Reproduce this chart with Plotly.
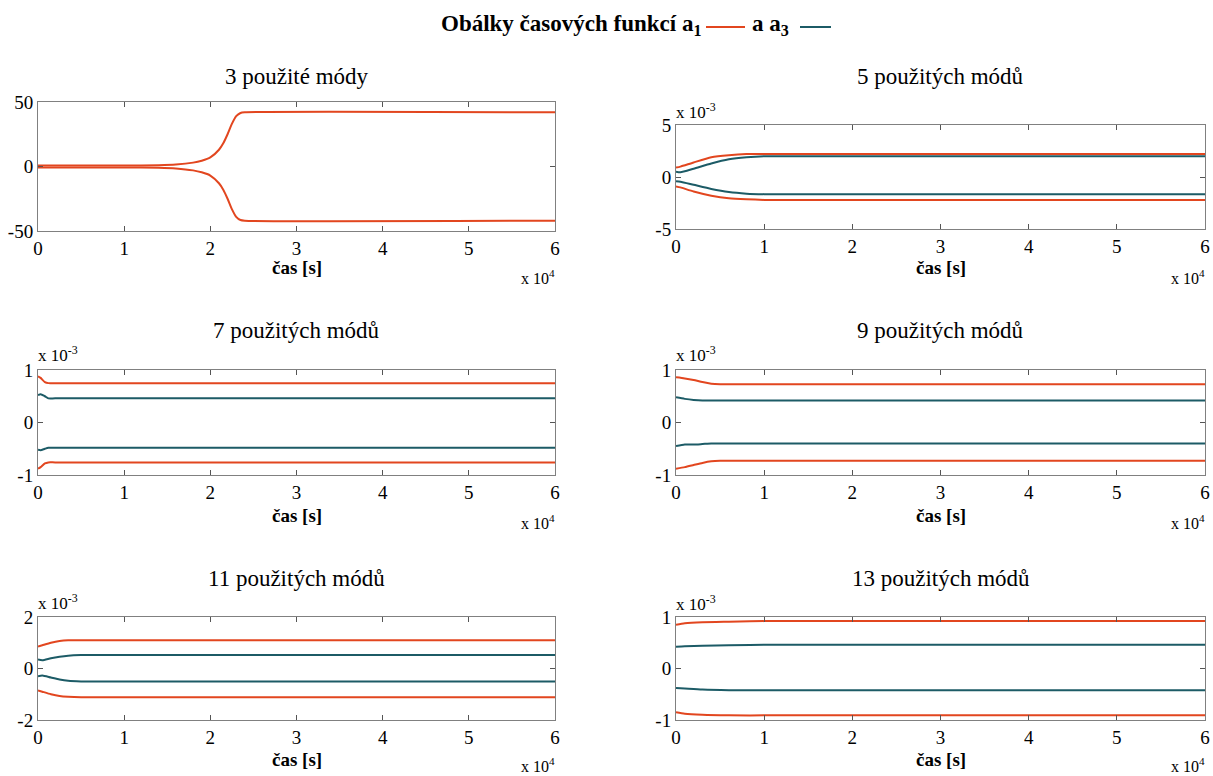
import plotly.graph_objects as go

W, H = 1213, 776
RED = "#e2461f"
TEAL = "#1c5b66"
FONT = "Liberation Serif, Times New Roman, serif"

# ---------------- data (time in 1e4 s, amplitude in displayed units) ----------------
titles = ["3 použité módy", "5 použitých módů", "7 použitých módů",
          "9 použitých módů", "11 použitých módů", "13 použitých módů"]
x_ticks = [0, 1, 2, 3, 4, 5, 6]

# 3 modes (a1 only visible)
t_3 = [0, 0.5, 1.0, 1.4, 1.6, 1.8, 1.9, 2.0, 2.1, 2.15, 2.2, 2.25, 2.3, 2.35, 2.4, 6.0]
a1_up_3 = [0.8, 0.8, 0.8, 1.0, 1.5, 3.0, 4.5, 7.0, 13.0, 18.0, 25.0, 33.0, 39.0, 41.5, 42.0, 42.0]
a1_lo_3 = [-0.8, -0.8, -0.8, -1.0, -1.5, -3.0, -4.5, -7.0, -13.0, -18.0, -25.0, -33.0, -39.0, -41.5, -42.0, -42.0]

# 5 modes (x 1e-3)
t_5 = [0, 0.05, 0.2, 0.4, 0.6, 0.8, 1.0, 6.0]
a1_up_5 = [0.9, 1.0, 1.4, 1.9, 2.1, 2.2, 2.2, 2.2]
a1_lo_5 = [-0.9, -1.0, -1.4, -1.8, -2.05, -2.15, -2.2, -2.2]
a3_up_5 = [0.5, 0.45, 0.8, 1.3, 1.7, 1.9, 2.0, 2.0]
a3_lo_5 = [-0.4, -0.45, -0.75, -1.15, -1.45, -1.6, -1.65, -1.65]

# 7 modes
t_7 = [0, 0.03, 0.08, 0.12, 0.2, 6.0]
a1_up_7 = [0.88, 0.85, 0.77, 0.75, 0.75, 0.75]
a1_lo_7 = [-0.88, -0.85, -0.78, -0.76, -0.76, -0.76]
a3_up_7 = [0.52, 0.54, 0.5, 0.46, 0.46, 0.46]
a3_lo_7 = [-0.52, -0.53, -0.5, -0.48, -0.48, -0.48]

# 9 modes
t_9 = [0, 0.1, 0.2, 0.3, 0.4, 0.5, 6.0]
a1_up_9 = [0.86, 0.84, 0.81, 0.77, 0.74, 0.73, 0.73]
a1_lo_9 = [-0.88, -0.85, -0.81, -0.77, -0.74, -0.73, -0.73]
a3_up_9 = [0.48, 0.45, 0.43, 0.42, 0.42, 0.42, 0.42]
a3_lo_9 = [-0.45, -0.42, -0.42, -0.41, -0.4, -0.4, -0.4]

# 11 modes
t_11 = [0, 0.05, 0.15, 0.25, 0.35, 0.5, 6.0]
a1_up_11 = [0.85, 0.9, 1.0, 1.07, 1.1, 1.1, 1.1]
a1_lo_11 = [-0.85, -0.9, -1.0, -1.07, -1.1, -1.12, -1.12]
a3_up_11 = [0.35, 0.32, 0.4, 0.46, 0.5, 0.52, 0.52]
a3_lo_11 = [-0.3, -0.27, -0.35, -0.43, -0.48, -0.5, -0.5]

# 13 modes
t_13 = [0, 0.1, 0.3, 0.6, 1.0, 6.0]
a1_up_13 = [0.85, 0.88, 0.9, 0.91, 0.92, 0.92]
a1_lo_13 = [-0.85, -0.88, -0.9, -0.91, -0.91, -0.91]
a3_up_13 = [0.42, 0.43, 0.44, 0.45, 0.46, 0.46]
a3_lo_13 = [-0.38, -0.39, -0.41, -0.42, -0.42, -0.42]

y_ticks = [[-50, 0, 50], [-5, 0, 5], [-1, 0, 1], [-1, 0, 1], [-2, 0, 2], [-1, 0, 1]]

panels = [
    (t_3, [a1_up_3, a1_lo_3], []),
    (t_5, [a1_up_5, a1_lo_5], [a3_up_5, a3_lo_5]),
    (t_7, [a1_up_7, a1_lo_7], [a3_up_7, a3_lo_7]),
    (t_9, [a1_up_9, a1_lo_9], [a3_up_9, a3_lo_9]),
    (t_11, [a1_up_11, a1_lo_11], [a3_up_11, a3_lo_11]),
    (t_13, [a1_up_13, a1_lo_13], [a3_up_13, a3_lo_13]),
]

# ---------------- layout geometry (pixels) ----------------
LX = (38, 555)
RX = (676, 1205)
boxes = [  # (x0, x1, ytop, ybottom)
    (LX[0], LX[1], 102, 231),
    (RX[0], RX[1], 125, 229),
    (LX[0], LX[1], 370, 475),
    (RX[0], RX[1], 370, 475),
    (LX[0], LX[1], 617, 720),
    (RX[0], RX[1], 617, 720),
]
title_y = [77, 77, 330, 330, 578, 578]
xlabel_y = [267, 267, 515, 515, 759, 759]
x10_y = [277, 277, 522, 522, 765, 765]
exp_y = [None, 111, 354, 354, 602, 603]


def px(x):
    return x / W


def py(y):
    return 1 - y / H


fig = go.Figure()
layout = dict(
    width=W, height=H, margin=dict(l=0, r=0, t=0, b=0, pad=0, autoexpand=False),
    paper_bgcolor="white", plot_bgcolor="white", showlegend=False,
    font=dict(family=FONT, color="black", size=18),
)
annotations = []
shapes = []

for i, ((t, a1s, a3s), box) in enumerate(zip(panels, boxes)):
    n = i + 1
    xa = "x" if n == 1 else f"x{n}"
    ya = "y" if n == 1 else f"y{n}"
    for s in a3s:
        fig.add_trace(go.Scatter(x=t, y=s, mode="lines", xaxis=xa, yaxis=ya,
                                 line=dict(color=TEAL, width=2, shape="spline", smoothing=0.6)))
    for s in a1s:
        fig.add_trace(go.Scatter(x=t, y=s, mode="lines", xaxis=xa, yaxis=ya,
                                 line=dict(color=RED, width=2, shape="spline", smoothing=0.6)))
    x0, x1, yt, yb = box
    yt_vals = y_ticks[i]
    common = dict(showgrid=False, zeroline=False, showline=True, linecolor="#808080",
                  linewidth=1, mirror="allticks", ticks="inside", ticklen=5, automargin=False,
                  tickcolor="#555555", tickfont=dict(family=FONT, size=19, color="black"))
    layout["xaxis" if n == 1 else f"xaxis{n}"] = dict(
        domain=[px(x0), px(x1)], anchor=ya, range=[0, 6], tickvals=x_ticks,
        ticktext=[str(v) for v in x_ticks], **common)
    layout["yaxis" if n == 1 else f"yaxis{n}"] = dict(
        domain=[py(yb), py(yt)], anchor=xa, range=[yt_vals[0], yt_vals[-1]],
        tickvals=yt_vals, ticktext=[str(v) for v in yt_vals], **common)

    cx = (x0 + x1) / 2
    annotations.append(dict(x=px(cx), y=py(title_y[i]), xref="paper", yref="paper",
                            text=titles[i], showarrow=False, xanchor="center", yanchor="middle",
                            font=dict(family=FONT, size=23, color="black")))
    annotations.append(dict(x=px(cx), y=py(xlabel_y[i]), xref="paper", yref="paper",
                            text="<b>čas [s]</b>", showarrow=False, xanchor="center", yanchor="middle",
                            font=dict(family=FONT, size=19, color="black")))
    annotations.append(dict(x=px(x1 + 2), y=py(x10_y[i]), xref="paper", yref="paper",
                            text="x 10<sup>4</sup>", showarrow=False, xanchor="right", yanchor="middle",
                            font=dict(family=FONT, size=16, color="black")))
    if exp_y[i] is not None:
        annotations.append(dict(x=px(x0 - 2), y=py(exp_y[i]), xref="paper", yref="paper",
                                text="x 10<sup>-3</sup>", showarrow=False, xanchor="left", yanchor="middle",
                                font=dict(family=FONT, size=17, color="black")))

# main title with line keys
annotations.append(dict(x=px(703), y=py(25), xref="paper", yref="paper",
                        text="<b>Obálky časových funkcí a<sub>1</sub></b>", showarrow=False,
                        xanchor="right", yanchor="middle",
                        font=dict(family=FONT, size=23, color="black")))
annotations.append(dict(x=px(750), y=py(25), xref="paper", yref="paper",
                        text="<b>a a<sub>3</sub></b>", showarrow=False,
                        xanchor="left", yanchor="middle",
                        font=dict(family=FONT, size=23, color="black")))
shapes.append(dict(type="line", xref="paper", yref="paper", x0=px(706), x1=px(745),
                   y0=py(27), y1=py(27), line=dict(color=RED, width=2)))
shapes.append(dict(type="line", xref="paper", yref="paper", x0=px(800), x1=px(831),
                   y0=py(27), y1=py(27), line=dict(color=TEAL, width=2)))

layout["annotations"] = annotations
layout["shapes"] = shapes
fig.update_layout(**layout)
fig.write_html("out.html", config={"displayModeBar": False},
               post_script="document.body.style.margin='0';document.body.style.overflow='hidden';")
